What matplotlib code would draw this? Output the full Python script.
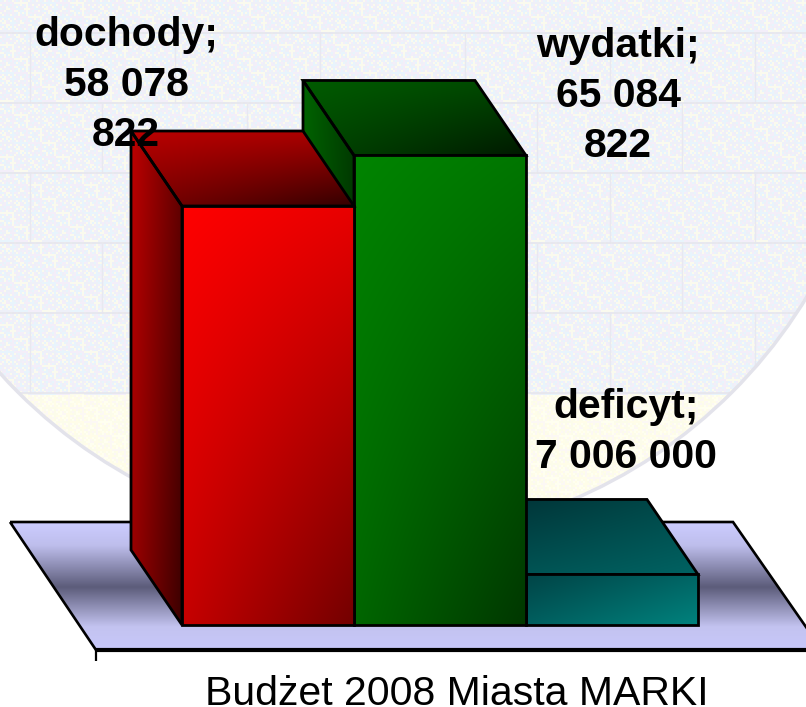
import numpy as np
import matplotlib
matplotlib.use('Agg')
import matplotlib.pyplot as plt
from matplotlib.patches import Polygon, Circle

# values of the budget
categories = ['dochody', 'wydatki', 'deficyt']
values = [58078822, 65084822, 7006000]
labels = ['dochody;\n58 078\n822', 'wydatki;\n65 084\n822', 'deficyt;\n7 006 000']
title = 'Budżet 2008 Miasta MARKI'

W, H = 806, 707
BAR_W = 172.0                # px per category
PX_PER_VALUE = 419.0 / 58078822
X0, Y0 = 182.0, 625.0        # pixel position of category 0, value 0
DX = -51.0 / BAR_W           # depth of the 3d effect
DY = 75.0 / PX_PER_VALUE

# corner colours: top left, top right, bottom left, bottom right
front_col = [[(255, 0, 0), (232, 0, 0), (198, 0, 0), (115, 0, 0)],
             [(0, 132, 0), (0, 118, 0), (0, 102, 0), (0, 55, 0)],
             [(0, 68, 70), (0, 100, 100), (0, 95, 95), (0, 130, 125)]]
top_col = [[(185, 0, 0), (170, 0, 0), (125, 0, 0), (50, 0, 0)],
           [(0, 92, 0), (0, 72, 0), (0, 70, 0), (0, 25, 0)],
           [(0, 48, 52), (0, 75, 75), (0, 80, 80), (0, 98, 98)]]
side_col = [[(190, 0, 0), (100, 0, 0), (150, 0, 0), (60, 0, 0)],
            [(0, 100, 0), (0, 60, 0), (0, 85, 0), (0, 45, 0)],
            [(0, 60, 60), (0, 40, 40), (0, 60, 60), (0, 40, 40)]]


def gradient(axis, patch, corners, zorder):
    # bilinear fill of the bounding box, clipped to the patch
    pts = patch.get_xy()
    c = np.array(corners, dtype=float) / 255
    n = 128
    v, u = np.mgrid[0:1:n * 1j, 0:1:n * 1j]
    u = u[..., None]
    v = v[..., None]
    img = ((1 - u) * (1 - v) * c[0] + u * (1 - v) * c[1]
           + (1 - u) * v * c[2] + u * v * c[3])
    ext = [pts[:, 0].min(), pts[:, 0].max(), pts[:, 1].min(), pts[:, 1].max()]
    im = axis.imshow(img, extent=ext, origin='upper', aspect='auto',
                     interpolation='bilinear', zorder=zorder)
    im.set_clip_path(patch)


fig = plt.figure(figsize=(W / 100, H / 100), dpi=100)
plt.rcParams['font.family'] = ['Liberation Sans', 'DejaVu Sans']

# background layer in pixels
bg = fig.add_axes([0, 0, 1, 1], zorder=0)
yy, xx = np.mgrid[0:H // 2 + 1, 0:W // 2 + 1]
idx = (xx * 3 + yy * 5 + (xx * yy) % 7) % 4
cool = np.array([(232, 244, 252), (243, 238, 249), (250, 250, 238), (238, 240, 248)]) / 255
warm = np.array([(255, 253, 232), (252, 248, 244), (255, 255, 240), (252, 252, 234)]) / 255
tex = cool[idx]
tex[yy * 2 > 395] = warm[idx][yy * 2 > 395]
circle = Circle((375, 35), 505, transform=bg.transData, fc='none',
                ec=(0.89, 0.89, 0.92), lw=2.5, zorder=3)
bg.add_patch(circle)
im = bg.imshow(tex, extent=[0, W, H, 0], aspect='auto', interpolation='nearest', zorder=1)
im.set_clip_path(circle)

# faint bricks
brick_y = [33, 103, 173, 243, 313, 393]
for i, y in enumerate(brick_y):
    ln = bg.hlines(y, 0, W, color=(0.90, 0.90, 0.93), lw=1.2, zorder=2)
    ln.set_clip_path(circle)
    if i < len(brick_y) - 1:
        xs = np.arange(30 + 72 * (i % 2), W, 145)
        ln = bg.vlines(xs, y, brick_y[i + 1], color=(0.91, 0.91, 0.94), lw=1, zorder=2)
        ln.set_clip_path(circle)

# floor
floor = Polygon([(10, 522), (733, 522), (822, 650), (96, 650)], closed=True,
                fc='none', ec='black', lw=1.9, zorder=5)
bg.add_patch(floor)
stop_y = [522, 545, 587, 627, 650]
stop_c = np.array([(204, 204, 255), (190, 190, 236), (92, 92, 122), (195, 195, 240), (200, 200, 250)]) / 255
rows = np.arange(522, 651)
ramp = np.stack([np.interp(rows, stop_y, stop_c[:, k]) for k in range(3)], axis=1)[:, None, :]
im = bg.imshow(ramp, extent=[10, 822, 650, 522], aspect='auto', interpolation='bilinear', zorder=4)
im.set_clip_path(floor)
bg.plot([96, W], [650, 650], color='black', lw=3, zorder=6, solid_capstyle='butt')
bg.plot([96, 96], [650, 661], color='black', lw=1.6, zorder=6, solid_capstyle='butt')
bg.set_xlim(0, W)
bg.set_ylim(H, 0)
bg.axis('off')

# chart layer: x is the category, y is the value
ax = fig.add_axes([0, 0, 1, 1], zorder=1)
ax.patch.set_alpha(0)
xlim = (-X0 / BAR_W, (W - X0) / BAR_W)
ylim = ((Y0 - H) / PX_PER_VALUE, Y0 / PX_PER_VALUE)

for i in range(len(values) - 1, -1, -1):
    v = values[i]
    z = 10 + (len(values) - i) * 10
    side = Polygon([(i, 0), (i + DX, DY), (i + DX, v + DY), (i, v)], closed=True,
                   fc='none', ec='black', lw=2, joinstyle='miter', zorder=z + 2)
    top = Polygon([(i, v), (i + DX, v + DY), (i + 1 + DX, v + DY), (i + 1, v)], closed=True,
                  fc='none', ec='black', lw=2, joinstyle='miter', zorder=z + 2)
    ax.add_patch(side)
    ax.add_patch(top)
    gradient(ax, side, side_col[i], z)
    gradient(ax, top, top_col[i], z)
    bar = ax.bar(i, v, width=1, align='edge', fc='none', ec='black', lw=2, zorder=z + 5)[0]
    front = Polygon(bar.get_corners(), closed=True, fc='none', ec='none', zorder=z + 3)
    ax.add_patch(front)
    gradient(ax, front, front_col[i], z + 3)

ax.set_xlim(*xlim)
ax.set_ylim(*ylim)
ax.axis('off')

# labels, placed by pixel fractions of the figure
label_pos = [(126, 85), (618, 96), (626, 432)]
for txt, (px, py) in zip(labels, label_pos):
    fig.text(px / W, 1 - py / H, txt, ha='center', va='center', fontsize=29.4,
             fontweight='bold', color='black', linespacing=1.4, zorder=10)
fig.text(457 / W, 1 - 705 / H, title, ha='center', va='baseline', fontsize=29.5,
         color='black', zorder=10)

fig.savefig('out.png', dpi=100)
